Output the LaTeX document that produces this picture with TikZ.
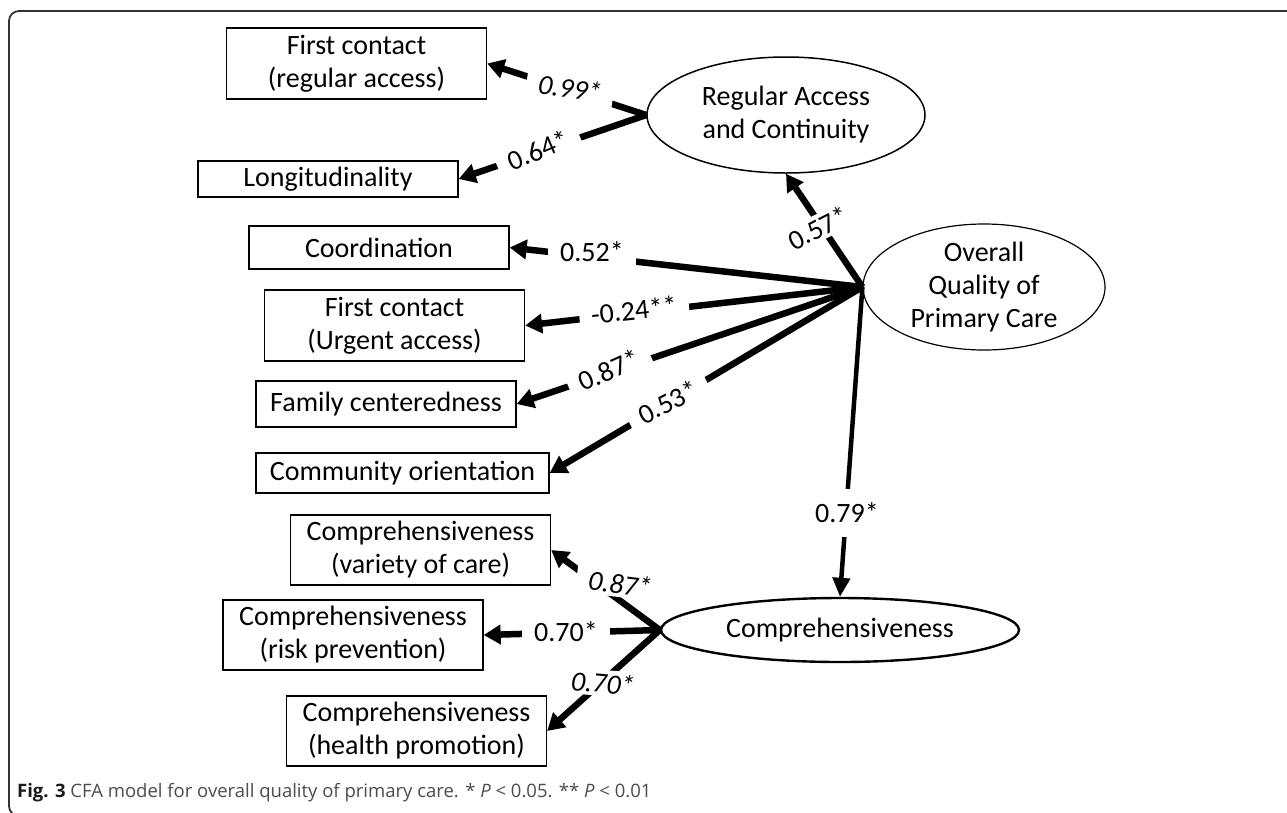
\documentclass[tikz,border=0pt]{standalone}
\usepackage{fontspec}
\setmainfont{Carlito}
\newfontfamily\capfont{Open Sans}
\usetikzlibrary{arrows.meta,shapes.geometric}
\begin{document}
\begin{tikzpicture}[x=1pt,y=-1pt,
  txt/.style={font=\fontsize{28}{33}\selectfont},
  box/.style={txt, draw, line width=1.3pt, minimum width=260pt, align=center, inner sep=0pt},
  lat/.style={txt, draw, ellipse, align=center, inner sep=0pt},
  arr/.style={line width=6.5pt, -{Triangle[length=17pt,width=19pt]}},
  thinarr/.style={line width=4.5pt, -{Triangle[length=19pt,width=17pt]}},
  lab/.style={txt, fill=white, inner xsep=12pt, inner ysep=3pt},
  ilab/.style={lab, font=\fontsize{28}{33}\selectfont\itshape}]
\useasboundingbox (0,0) rectangle (1287,812);
\begin{scope}
\clip (0,0) rectangle (1287,812);
\draw[line width=1.8pt, black!80, rounded corners=10pt] (9,11) rectangle (1340,816);
\end{scope}

% observed variables
\node[box, minimum height=71pt] (fcr) at (356.5,63.5) {First contact\\(regular access)};
\node[box, minimum height=36pt] (long) at (328,179) {Longitudinality};
\node[box, minimum height=43pt] (coord) at (379,247.5) {Coordination};
\node[box, minimum height=71pt] (fcu) at (394.5,325.5) {First contact\\(Urgent access)};
\node[box, minimum height=46pt] (fam) at (386,404) {Family centeredness};
\node[box, minimum width=293pt, minimum height=40pt] (comm) at (402.5,473) {Community orientation};
\node[box, minimum height=70pt] (var) at (420.5,550) {Comprehensiveness\\(variety of care)};
\node[box, minimum height=70pt] (risk) at (353,635) {Comprehensiveness\\(risk prevention)};
\node[box, minimum height=70pt] (health) at (416.5,731) {Comprehensiveness\\(health promotion)};

% latent variables
\node[lat, line width=1.5pt, minimum width=278pt, minimum height=116pt] (ra) at (786,115) {Regular Access\\and Continuity};
\node[lat, line width=1.2pt, minimum width=242pt, minimum height=126pt, inner sep=-22pt] (ov) at (984,287) {Overall\\Quality of\\Primary Care};
\node[lat, line width=2.4pt, minimum width=358pt, minimum height=64pt] (comp) at (840,630) {Comprehensiveness};

% connectors
\draw[arr] (ra.west) -- (fcr.east);
\draw[arr] (ra.west) -- (long.east);
\draw[arr] (ov.west) -- (ra.south);
\draw[arr] (ov.west) -- (coord.east);
\draw[arr] (ov.west) -- (fcu.east);
\draw[arr] (ov.west) -- (fam.east);
\draw[arr] (ov.west) -- (comm.east);
\draw[thinarr] (ov.west) -- (comp.north);
\draw[arr] (comp.west) -- (var.east);
\draw[arr] (comp.west) -- (risk.east);
\draw[arr] (comp.west) -- (health.east);

% loadings
\node[ilab, rotate=-8] (l1) at (570,88) {0.99*};
\node[lab, rotate=23] (l2) at (538,150) {0.64*};
\node[lab, rotate=27] (l3) at (818,228) {0.57*};
\node[lab] (l4) at (592,252) {0.52*};
\node[lab, rotate=6] (l5) at (634,310) {-0.24**};
\node[lab, rotate=24] (l6) at (609,370) {0.87*};
\node[lab, rotate=27] (l7) at (668,402) {0.53*};
\node[lab, inner ysep=14pt] (l8) at (847,513) {0.79*};
\node[ilab, rotate=-7] (l9) at (620,584) {0.87*};
\node[lab] (l10) at (566,632) {0.70*};
\node[ilab, rotate=-5] (l11) at (603,683) {0.70*};

% caption
\node[anchor=base west, inner sep=0pt, font=\capfont\fontsize{18.5}{22}\selectfont, text=black!70] (cap) at (17,797)
  {\textbf{\color{black!90}Fig. 3} CFA model for overall quality of primary care. * \textit{P} < 0.05. ** \textit{P} < 0.01};
\end{tikzpicture}
\end{document}
